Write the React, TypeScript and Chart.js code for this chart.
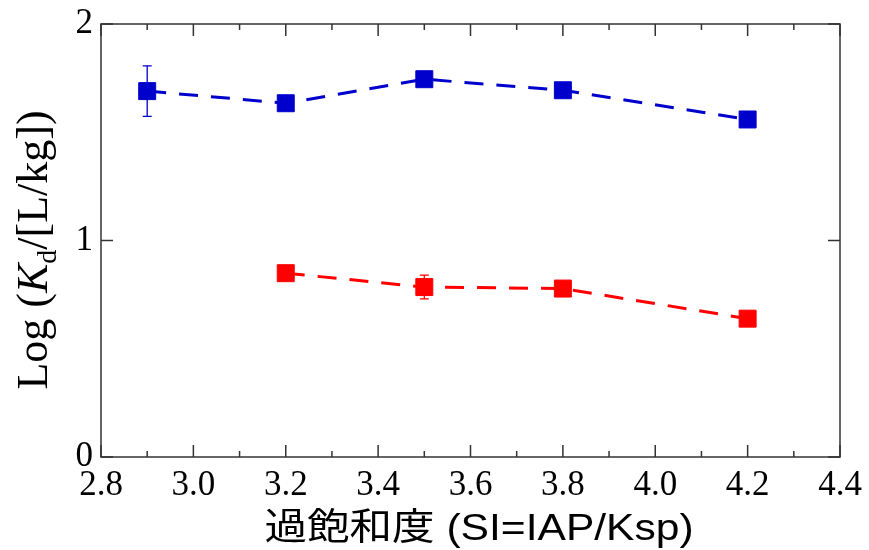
import React, { useEffect, useRef } from 'react';
import { Chart, registerables } from 'chart.js';

Chart.register(...registerables);

// ---- data ----
const xBlue = [2.9, 3.2, 3.5, 3.8, 4.2];
const yBlue = [1.69, 1.634, 1.745, 1.694, 1.559];
const errBlue = [0.117, 0, 0, 0, 0];

const xRed = [3.2, 3.5, 3.8, 4.2];
const yRed = [0.849, 0.785, 0.778, 0.639];
const errRed = [0, 0.055, 0, 0];

const xTicks = [2.8, 3.0, 3.2, 3.4, 3.6, 3.8, 4.0, 4.2, 4.4];
const xMinorTicks = [2.9, 3.1, 3.3, 3.5, 3.7, 3.9, 4.1, 4.3];
const yTicks = [0, 1, 2];

const xTitle = '過飽和度 (SI=IAP/Ksp)';
const yTitleA = 'Log (';
const yTitleK = 'K';
const yTitleSub = 'd';
const yTitleB = '/[L/kg])';

const BLUE = '#0000CC';
const RED = '#FF0000';

const errorBarPlugin = {
  id: 'errorBars',
  beforeDatasetsDraw(chart: any) {
    const ctx = chart.ctx;
    const xs = chart.scales.x;
    const ys = chart.scales.y;
    chart.data.datasets.forEach((ds: any) => {
      const errs: number[] = ds.errors || [];
      ds.data.forEach((p: any, i: number) => {
        const e = errs[i];
        if (!e) return;
        const px = xs.getPixelForValue(p.x);
        const top = ys.getPixelForValue(p.y + e);
        const bot = ys.getPixelForValue(p.y - e);
        ctx.save();
        ctx.strokeStyle = ds.borderColor;
        ctx.lineWidth = 1.3;
        ctx.beginPath();
        ctx.moveTo(px, top);
        ctx.lineTo(px, bot);
        ctx.moveTo(px - 4.5, top);
        ctx.lineTo(px + 4.5, top);
        ctx.moveTo(px - 4.5, bot);
        ctx.lineTo(px + 4.5, bot);
        ctx.stroke();
        ctx.restore();
      });
    });
  },
};

const framePlugin = {
  id: 'frameTicks',
  afterDraw(chart: any) {
    const ctx = chart.ctx;
    const { left, right, top, bottom } = chart.chartArea;
    const xs = chart.scales.x;
    const ys = chart.scales.y;
    ctx.save();
    ctx.strokeStyle = '#333';
    ctx.lineWidth = 1.5;
    ctx.strokeRect(left, top, right - left, bottom - top);
    ctx.beginPath();
    xTicks.forEach((v) => {
      const px = xs.getPixelForValue(v);
      ctx.moveTo(px, bottom);
      ctx.lineTo(px, bottom - 12);
      ctx.moveTo(px, top);
      ctx.lineTo(px, top + 12);
    });
    xMinorTicks.forEach((v) => {
      const px = xs.getPixelForValue(v);
      ctx.moveTo(px, bottom);
      ctx.lineTo(px, bottom - 6);
      ctx.moveTo(px, top);
      ctx.lineTo(px, top + 6);
    });
    yTicks.forEach((v) => {
      const py = ys.getPixelForValue(v);
      ctx.moveTo(left, py);
      ctx.lineTo(left + 12, py);
      ctx.moveTo(right, py);
      ctx.lineTo(right - 12, py);
    });
    ctx.stroke();

    // x title (slightly widened to match reference proportions)
    ctx.save();
    ctx.fillStyle = '#000';
    ctx.font = '37px "Liberation Sans", "Noto Sans CJK JP", sans-serif';
    ctx.textAlign = 'center';
    ctx.textBaseline = 'alphabetic';
    ctx.translate(479, 540);
    ctx.scale(1.15, 1);
    ctx.fillText(xTitle, 0, 0);
    ctx.restore();

    // y title
    ctx.fillStyle = '#000';
    const fReg = '44px "Liberation Serif", serif';
    const fIt = 'italic 44px "Liberation Serif", serif';
    const fSub = '28px "Liberation Serif", serif';
    ctx.textAlign = 'left';
    ctx.textBaseline = 'alphabetic';
    ctx.font = fReg;
    const wA = ctx.measureText(yTitleA).width;
    const wB = ctx.measureText(yTitleB).width;
    ctx.font = fIt;
    const wK = ctx.measureText(yTitleK).width;
    ctx.font = fSub;
    const wS = ctx.measureText(yTitleSub).width;
    const total = wA + wK + wS + wB;
    ctx.translate(47, 250);
    ctx.rotate(-Math.PI / 2);
    let cx = -total / 2;
    ctx.font = fReg;
    ctx.fillText(yTitleA, cx, 0);
    cx += wA;
    ctx.font = fIt;
    ctx.fillText(yTitleK, cx, 0);
    cx += wK;
    ctx.font = fSub;
    ctx.fillText(yTitleSub, cx, 9);
    cx += wS;
    ctx.font = fReg;
    ctx.fillText(yTitleB, cx, 0);
    ctx.restore();
  },
};

export default function App() {
  const ref = useRef<HTMLCanvasElement | null>(null);
  useEffect(() => {
    document.body.style.margin = '0';
    const canvas = ref.current;
    if (!canvas) return;
    const mk = (xs: number[], ys: number[]) => xs.map((x, i) => ({ x, y: ys[i] }));
    const chart = new Chart(canvas, {
      type: 'line',
      data: {
        datasets: [
          {
            label: 'blue',
            data: mk(xBlue, yBlue),
            errors: errBlue,
            borderColor: BLUE,
            backgroundColor: BLUE,
            borderWidth: 3,
            borderDash: [19, 13],
            pointStyle: 'rect',
            pointRadius: 12,
            pointBorderWidth: 1,
            pointBackgroundColor: BLUE,
            pointBorderColor: BLUE,
            tension: 0,
          } as any,
          {
            label: 'red',
            data: mk(xRed, yRed),
            errors: errRed,
            borderColor: RED,
            backgroundColor: RED,
            borderWidth: 3,
            borderDash: [19, 13],
            pointStyle: 'rect',
            pointRadius: 12,
            pointBorderWidth: 1,
            pointBackgroundColor: RED,
            pointBorderColor: RED,
            tension: 0,
          } as any,
        ],
      },
      options: {
        animation: false,
        responsive: false,
        maintainAspectRatio: false,
        layout: { padding: { top: 24, right: 29, left: 0, bottom: 0 } },
        plugins: { legend: { display: false }, tooltip: { enabled: false } },
        scales: {
          x: {
            type: 'linear',
            min: 2.8,
            max: 4.4,
            grid: { display: false, drawTicks: false },
            border: { display: false },
            afterBuildTicks: (s: any) => {
              s.ticks = xTicks.map((v) => ({ value: v }));
            },
            afterFit: (s: any) => {
              s.height = 93;
              s.paddingLeft = 0;
              s.paddingRight = 0;
            },
            ticks: {
              autoSkip: false,
              maxRotation: 0,
              padding: 8,
              color: '#000',
              font: { family: '"Liberation Serif", serif', size: 35 },
              callback: (v: any) => Number(v).toFixed(1),
            },
          },
          y: {
            type: 'linear',
            min: 0,
            max: 2,
            grid: { display: false, drawTicks: false },
            border: { display: false },
            afterBuildTicks: (s: any) => {
              s.ticks = yTicks.map((v) => ({ value: v }));
            },
            afterFit: (s: any) => {
              s.width = 101;
              s.paddingTop = 0;
              s.paddingBottom = 0;
            },
            ticks: {
              padding: 8,
              color: '#000',
              font: { family: '"Liberation Serif", serif', size: 35 },
              callback: (v: any) => String(v),
            },
          },
        },
      } as any,
      plugins: [errorBarPlugin, framePlugin],
    });
    return () => chart.destroy();
  }, []);
  return (
    <div style={{ position: 'absolute', left: 0, top: 0, width: 869, height: 550 }}>
      <canvas ref={ref} width={869} height={550} style={{ width: 869, height: 550, display: 'block' }} />
    </div>
  );
}
